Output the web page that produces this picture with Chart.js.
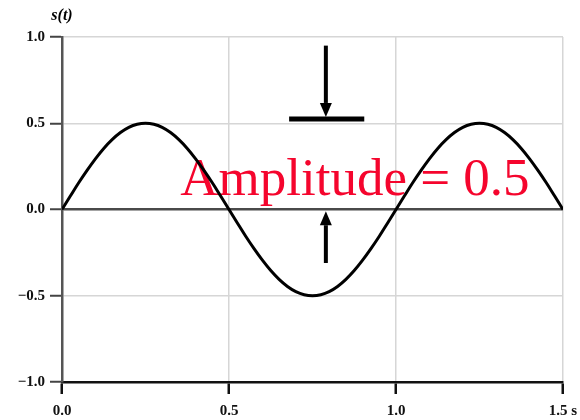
<!DOCTYPE html>
<html>
<head>
<meta charset="utf-8">
<script src="https://cdn.jsdelivr.net/npm/chart.js@4.4.0/dist/chart.umd.min.js"></script>
<style>
    html, body { margin: 0; padding: 0; background: #fff; }
    #wrap { width: 580px; height: 420px; }
</style>
</head>
<body>
<div id="wrap"><canvas id="sineChart"></canvas></div>
<script>
// Signal s(t), one reading every 0.025 s
const timeValues = [
    0.000, 0.025, 0.050, 0.075, 0.100, 0.125, 0.150, 0.175, 0.200, 0.225,
    0.250, 0.275, 0.300, 0.325, 0.350, 0.375, 0.400, 0.425, 0.450, 0.475,
    0.500, 0.525, 0.550, 0.575, 0.600, 0.625, 0.650, 0.675, 0.700, 0.725,
    0.750, 0.775, 0.800, 0.825, 0.850, 0.875, 0.900, 0.925, 0.950, 0.975,
    1.000, 1.025, 1.050, 1.075, 1.100, 1.125, 1.150, 1.175, 1.200, 1.225,
    1.250, 1.275, 1.300, 1.325, 1.350, 1.375, 1.400, 1.425, 1.450, 1.475,
    1.500
];
const signalValues = [
    0.000, 0.078, 0.155, 0.227, 0.294, 0.354, 0.405, 0.446, 0.476, 0.494,
    0.500, 0.494, 0.476, 0.446, 0.405, 0.354, 0.294, 0.227, 0.155, 0.078,
    0.000, -0.078, -0.155, -0.227, -0.294, -0.354, -0.405, -0.446, -0.476, -0.494,
    -0.500, -0.494, -0.476, -0.446, -0.405, -0.354, -0.294, -0.227, -0.155, -0.078,
    0.000, 0.078, 0.155, 0.227, 0.294, 0.354, 0.405, 0.446, 0.476, 0.494,
    0.500, 0.494, 0.476, 0.446, 0.405, 0.354, 0.294, 0.227, 0.155, 0.078,
    0.000
];
const xTickLabels = ['0.0', '0.5', '1.0', '1.5 s'];
const yTickLabels = ['\u22121.0', '\u22120.5', '0.0', '0.5', '1.0'];
const yAxisTitle = 's(t)';
const amplitudeText = 'Amplitude = 0.5';

const serif = '"Liberation Serif", "DejaVu Serif", serif';

// Arrows and the red label, placed in data units
const amplitudeMarks = {
    arrowX: 0.79,
    topArrowFrom: 0.95, barY: 0.525, barFrom: 0.68, barTo: 0.905,
    bottomArrowFrom: -0.31, bottomArrowTo: -0.01,
    labelX: 0.877, labelY: 0.084
};

function drawArrow(ctx, x, y1, y2) {
    const dir = y2 > y1 ? 1 : -1;
    const head = 14;
    ctx.beginPath();
    ctx.moveTo(x, y1);
    ctx.lineTo(x, y2 - dir * head);
    ctx.stroke();
    ctx.beginPath();
    ctx.moveTo(x, y2);
    ctx.lineTo(x - 6, y2 - dir * head);
    ctx.lineTo(x + 6, y2 - dir * head);
    ctx.closePath();
    ctx.fill();
}

const amplitudePlugin = {
    id: 'amplitude',
    beforeDatasetsDraw(chart) {
        const { ctx, scales: { x, y } } = chart;
        ctx.save();
        ctx.fillStyle = 'rgb(245, 5, 45)';
        ctx.font = '53px ' + serif;
        ctx.textAlign = 'center';
        ctx.textBaseline = 'alphabetic';
        ctx.fillText(amplitudeText, x.getPixelForValue(amplitudeMarks.labelX), y.getPixelForValue(amplitudeMarks.labelY));
        ctx.restore();
    },
    afterDatasetsDraw(chart) {
        const { ctx, scales: { x, y } } = chart;
        const m = amplitudeMarks;
        const ax = x.getPixelForValue(m.arrowX);
        ctx.save();
        ctx.strokeStyle = '#000';
        ctx.fillStyle = '#000';
        ctx.lineWidth = 4;
        drawArrow(ctx, ax, y.getPixelForValue(m.topArrowFrom), y.getPixelForValue(m.barY) - 2);
        ctx.lineWidth = 5;
        ctx.beginPath();
        ctx.moveTo(x.getPixelForValue(m.barFrom), y.getPixelForValue(m.barY));
        ctx.lineTo(x.getPixelForValue(m.barTo), y.getPixelForValue(m.barY));
        ctx.stroke();
        ctx.lineWidth = 4;
        drawArrow(ctx, ax, y.getPixelForValue(m.bottomArrowFrom), y.getPixelForValue(m.bottomArrowTo));

        // axis title s(t) above the y axis
        ctx.font = 'italic bold 16px ' + serif;
        ctx.textAlign = 'center';
        ctx.textBaseline = 'middle';
        ctx.fillText(yAxisTitle, chart.chartArea.left, chart.chartArea.top - 21);
        ctx.restore();
    }
};

const ctx = document.getElementById('sineChart');
new Chart(ctx, {
    type: 'line',
    data: {
        datasets: [{
            data: timeValues.map((t, i) => ({ x: t, y: signalValues[i] })),
            borderColor: '#000',
            borderWidth: 3,
            pointRadius: 0,
            tension: 0.4,
            fill: false
        }]
    },
    options: {
        responsive: true,
        maintainAspectRatio: false,
        animation: false,
        layout: { padding: { top: 37, right: 0, left: 0, bottom: 0 } },
        plugins: {
            legend: { display: false },
            tooltip: { enabled: false }
        },
        scales: {
            x: {
                type: 'linear',
                min: 0,
                max: 1.5,
                afterFit(scale) {
                    scale.height = 38;
                    scale.paddingRight = 17;
                },
                afterBuildTicks(scale) {
                    scale.ticks = xTickLabels.map((_, i) => ({ value: i * 0.5 }));
                },
                ticks: {
                    autoSkip: false,
                    maxRotation: 0,
                    padding: 8,
                    color: '#111',
                    font: { family: serif, size: 15, weight: 'bold' },
                    callback: (value, index) => xTickLabels[index]
                },
                grid: {
                    color: '#d6d6d6',
                    lineWidth: 1.5,
                    tickLength: 12,
                    tickColor: '#111',
                    tickWidth: 2.5
                },
                border: { color: '#111', width: 2.5 }
            },
            y: {
                min: -1,
                max: 1,
                afterFit(scale) { scale.width = 62; },
                afterBuildTicks(scale) {
                    scale.ticks = yTickLabels.map((_, i) => ({ value: -1 + i * 0.5 }));
                },
                ticks: {
                    autoSkip: false,
                    padding: 5,
                    color: '#111',
                    font: { family: serif, size: 15, weight: 'bold' },
                    callback: (value, index) => yTickLabels[index]
                },
                grid: {
                    color: (c) => (c.tick && c.tick.value === 0) ? '#4a4a4a' : '#d6d6d6',
                    lineWidth: (c) => (c.tick && c.tick.value === 0) ? 2.5 : 1.5,
                    tickLength: 12,
                    tickColor: '#444',
                    tickWidth: 2
                },
                border: { color: '#555', width: 2.5 }
            }
        }
    },
    plugins: [amplitudePlugin]
});
</script>
</body>
</html>
